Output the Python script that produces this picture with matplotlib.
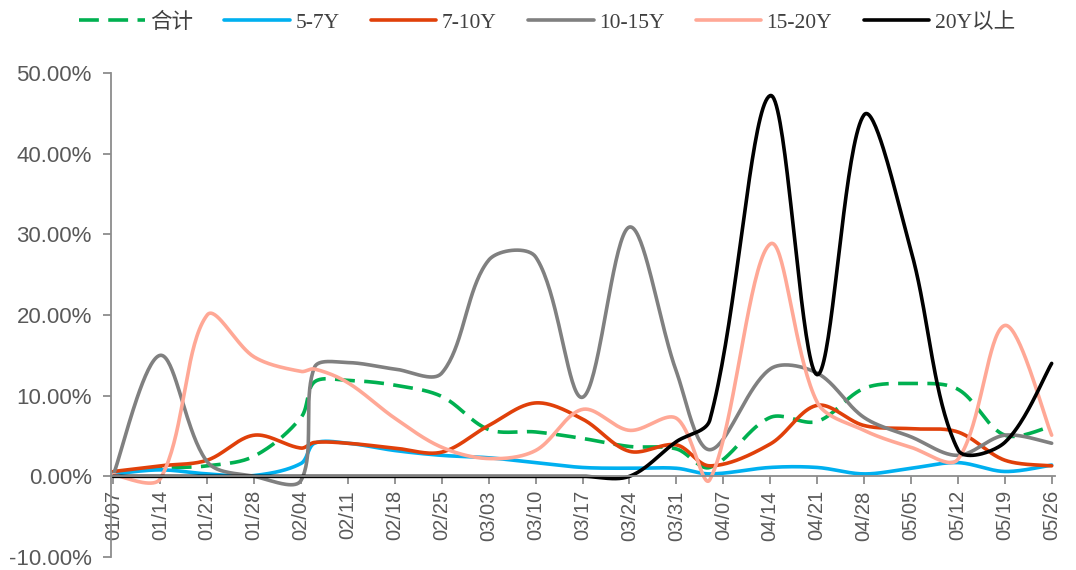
import numpy as np
import pandas as pd
import matplotlib
matplotlib.use("Agg")
import matplotlib.pyplot as plt

# dates of the observations (2024) and shares in %
dates = ['01/07', '01/14', '01/21', '01/28', '02/04', '02/06', '02/11', '02/18',
         '02/25', '03/03', '03/10', '03/17', '03/24', '03/31', '04/05', '04/14',
         '04/21', '04/28', '05/05', '05/12', '05/19', '05/26']
total = [0.5, 1.0, 1.3, 2.5, 7.3, 11.7, 11.9, 11.3, 9.9, 5.8, 5.5, 4.7, 3.7, 3.4,
         1.1, 7.3, 6.8, 10.9, 11.5, 10.8, 5.1, 6.2]
y5_7 = [0.3, 0.8, 0.3, 0.1, 1.6, 4.1, 4.1, 3.2, 2.6, 2.3, 1.7, 1.1, 1.0, 1.0,
        0.3, 1.1, 1.1, 0.3, 1.0, 1.7, 0.6, 1.4]
y7_10 = [0.6, 1.3, 2.0, 5.1, 3.5, 4.2, 4.1, 3.5, 3.0, 6.3, 9.1, 7.1, 3.1, 3.9,
         1.3, 4.0, 8.8, 6.3, 5.9, 5.5, 2.0, 1.3]
y10_15 = [0.2, 15.0, 1.8, 0.0, -0.5, 13.5, 14.1, 13.3, 12.8, 26.8, 27.2, 9.8, 30.9, 13.0,
          3.3, 13.3, 12.8, 7.3, 4.9, 2.6, 5.1, 4.1]
y15_20 = [0.2, -0.3, 20.0, 14.8, 13.0, 13.3, 11.6, 7.2, 3.6, 2.2, 3.2, 8.3, 5.7, 7.2,
          -0.4, 28.8, 9.2, 5.7, 3.6, 2.1, 18.7, 5.1]
y20 = [0, 0, 0, 0, 0, 0, 0, 0, 0, 0, 0, 0, 0.0, 4.3,
       7.0, 47.2, 12.6, 44.8, 28.0, 3.3, 4.2, 14.0]

tick_labels = ['01/07', '01/14', '01/21', '01/28', '02/04', '02/11', '02/18', '02/25',
               '03/03', '03/10', '03/17', '03/24', '03/31', '04/07', '04/14', '04/21',
               '04/28', '05/05', '05/12', '05/19', '05/26']

start = pd.Timestamp('2024-01-07')
days = np.array([(pd.Timestamp('2024/' + d) - start).days for d in dates], float)
tick_days = [(pd.Timestamp('2024/' + d) - start).days for d in tick_labels]

# px per day and px per percent, smoothing is done in screen space
SX, SY = 6.73, 8.06


def smooth(x, y, n=40):
    pts = np.column_stack([np.asarray(x) * SX, np.asarray(y, float) * SY])
    m = len(pts)
    c_out = np.zeros_like(pts)
    c_in = np.zeros_like(pts)
    for i in range(m):
        if i == 0:
            c_out[i] = pts[0] + (pts[1] - pts[0]) / 6
            continue
        if i == m - 1:
            c_in[i] = pts[i] - (pts[i] - pts[i - 1]) / 6
            continue
        tan = pts[i + 1] - pts[i - 1]
        d_in = np.hypot(*(pts[i] - pts[i - 1]))
        d_out = np.hypot(*(pts[i + 1] - pts[i]))
        c_out[i] = pts[i] + tan * d_out / (d_in + d_out) / 3
        c_in[i] = pts[i] - tan * d_in / (d_in + d_out) / 3
    t = np.linspace(0, 1, n)[:, None]
    out = []
    for i in range(m - 1):
        p1, c1, c2, p2 = pts[i], c_out[i], c_in[i + 1], pts[i + 1]
        b = (1 - t) ** 3 * p1 + 3 * (1 - t) ** 2 * t * c1 + 3 * (1 - t) * t ** 2 * c2 + t ** 3 * p2
        out.append(b if i == 0 else b[1:])
    out = np.vstack(out)
    return out[:, 0] / SX, out[:, 1] / SY


fig = plt.figure(figsize=(10.76, 5.70), dpi=100)
ax = fig.add_axes([0.1035, 0.0228, 0.877, 0.8492])

series = [
    ('合计', total, '#00B050', (0, (5.5, 2.6))),
    ('5-7Y', y5_7, '#00B0F0', '-'),
    ('7-10Y', y7_10, '#E0400A', '-'),
    ('10-15Y', y10_15, '#808080', '-'),
    ('15-20Y', y15_20, '#FFA896', '-'),
    ('20Y以上', y20, '#000000', '-'),
]
for name, vals, col, ls in series:
    sx, sy = smooth(days, vals)
    ax.plot(sx, sy, color=col, lw=2.6, ls=ls, label=name, solid_capstyle='round')

ax.set_xlim(-0.3, 140.5)
ax.set_ylim(-10, 50)
ax.set_yticks(np.arange(-10, 51, 10))
ax.set_yticklabels(['%.2f%%' % v for v in np.arange(-10, 51, 10)])
ax.set_xticks(tick_days)
ax.set_xticklabels(tick_labels)

for s in ['top', 'right']:
    ax.spines[s].set_visible(False)
ax.spines['bottom'].set_position(('data', 0))
for s in ['left', 'bottom']:
    ax.spines[s].set_color('#8c8c8c')
    ax.spines[s].set_linewidth(1.3)
ax.tick_params(axis='both', colors='#8c8c8c', length=6, width=1.3, direction='out')
ax.tick_params(axis='y', labelcolor='#595959', labelsize=16, pad=8)
ax.tick_params(axis='x', labelcolor='#595959', labelsize=14.5, labelrotation=90, pad=4)
for lab in ax.get_xticklabels() + ax.get_yticklabels():
    lab.set_family(['Liberation Sans', 'DejaVu Sans'])
ax.set_facecolor('none')

fig.legend(loc='upper left', bbox_to_anchor=(0.0555, 1.012), ncol=6, frameon=False,
           handlelength=3.05, columnspacing=1.45, handletextpad=0.25,
           prop={'family': ['Liberation Serif', 'Noto Sans CJK SC'], 'size': 15.5},
           labelcolor='#404040')

fig.savefig('out.png', dpi=100)
